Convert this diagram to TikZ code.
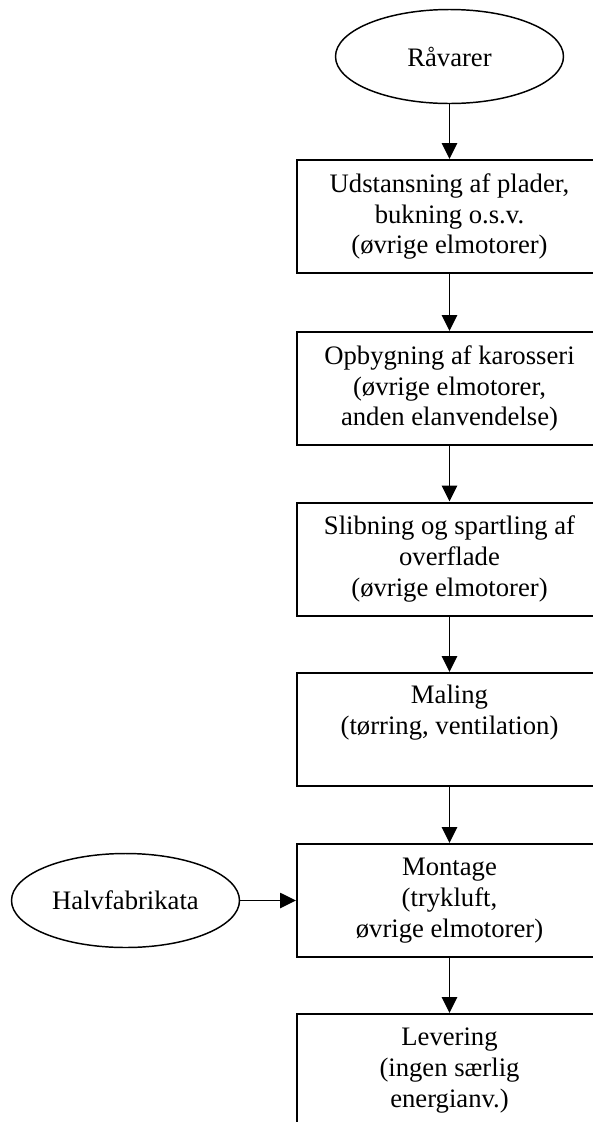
\documentclass[tikz,border=0pt]{standalone}
\usepackage{fontspec}
\setmainfont{Liberation Serif}
\usetikzlibrary{shapes.geometric,arrows.meta}
\begin{document}
\begin{tikzpicture}[x=0.75pt,y=-0.75pt,
  font=\fontsize{20}{23.2}\selectfont,
  stepbox/.style={draw,line width=1.5pt,minimum width=228.75pt,minimum height=84.75pt,
    inner sep=0pt,align=center},
  terminal/.style={draw,ellipse,line width=1.1pt,minimum width=171pt,minimum height=70.5pt,
    inner sep=0pt},
  flow/.style={line width=1.2pt,-{Triangle[length=12pt,width=11.5pt]}}]
  \useasboundingbox (0,0) rectangle (593,1122);
  \clip (0,0) rectangle (593,1122);

  % start and side inputs
  \node[terminal] (raw) at (449.5,56.5) {Råvarer};
  \node[terminal] (semi) at (125.5,900.5) {Halvfabrikata};

  % process steps
  \node[stepbox] (s1) at (449.5,216.5) {Udstansning af plader,\\bukning o.s.v.\\(øvrige elmotorer)};
  \node[stepbox] (s2) at (449.5,388.5) {Opbygning af karosseri\\(øvrige elmotorer,\\anden elanvendelse)};
  \node[stepbox] (s3) at (449.5,559) {Slibning og spartling af\\overflade\\(øvrige elmotorer)};
  \node[stepbox] (s4) at (449.5,729.5) {Maling\\(tørring, ventilation)\\\strut};
  \node[stepbox] (s5) at (449.5,900.5) {Montage\\(trykluft,\\øvrige elmotorer)};
  \node[stepbox] (s6) at (449.5,1070.5) {Levering\\(ingen særlig\\energianv.)};

  % connectors
  \draw[flow] (raw) -- (s1);
  \draw[flow] (s1) -- (s2);
  \draw[flow] (s2) -- (s3);
  \draw[flow] (s3) -- (s4);
  \draw[flow] (s4) -- (s5);
  \draw[flow] (s5) -- (s6);
  \draw[flow] (semi) -- (s5);
\end{tikzpicture}
\end{document}
